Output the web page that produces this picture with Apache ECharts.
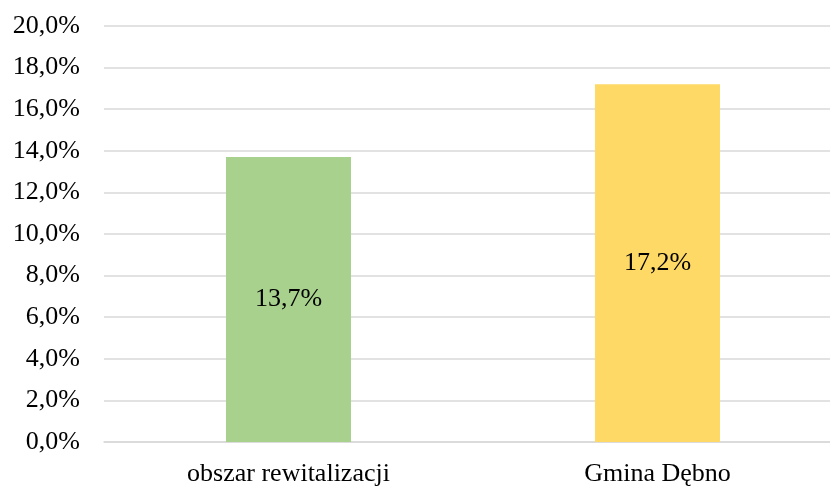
<!DOCTYPE html>
<html>
<head>
<meta charset="utf-8">
<script src="https://cdn.jsdelivr.net/npm/echarts@6/dist/echarts.min.js"></script>
<style>html,body{margin:0;padding:0;background:#fff}#c{width:830px;height:487px}</style>
</head>
<body>
<div id="c"></div>
<script>
const categories = ['obszar rewitalizacji', 'Gmina Dębno'];
const values = [13.7, 17.2];
const barColors = ['#A9D18E', '#FFD966'];
const yTicks = { min: 0, max: 20, interval: 2 };

const chart = echarts.init(document.getElementById('c'), null, { renderer: 'canvas' });
const font = '"Liberation Serif", "Times New Roman", serif';
chart.setOption({
  animation: false,
  grid: { left: 104, width: 738, top: 26, height: 416, containLabel: false, outerBoundsMode: 'none' },
  xAxis: {
    type: 'category',
    data: categories,
    axisLine: { show: true, lineStyle: { color: '#D9D9D9', width: 1.5 } },
    axisTick: { show: false },
    axisLabel: { color: '#000', fontFamily: font, fontSize: 26, margin: 19 }
  },
  yAxis: {
    type: 'value',
    min: yTicks.min, max: yTicks.max, interval: yTicks.interval,
    axisLine: { show: false },
    axisTick: { show: false },
    splitLine: { lineStyle: { color: '#D9D9D9', width: 1.5 } },
    axisLabel: {
      color: '#000', fontFamily: font, fontSize: 26, margin: 24,
      formatter: v => v.toFixed(1).replace('.', ',') + '%'
    }
  },
  series: [{
    type: 'bar',
    barWidth: 125,
    data: values.map((v, i) => ({ value: v, itemStyle: { color: barColors[i] } })),
    label: {
      show: true, position: 'inside', color: '#000', fontFamily: font, fontSize: 26,
      formatter: p => p.value.toFixed(1).replace('.', ',') + '%'
    }
  }]
});
</script>
</body>
</html>
